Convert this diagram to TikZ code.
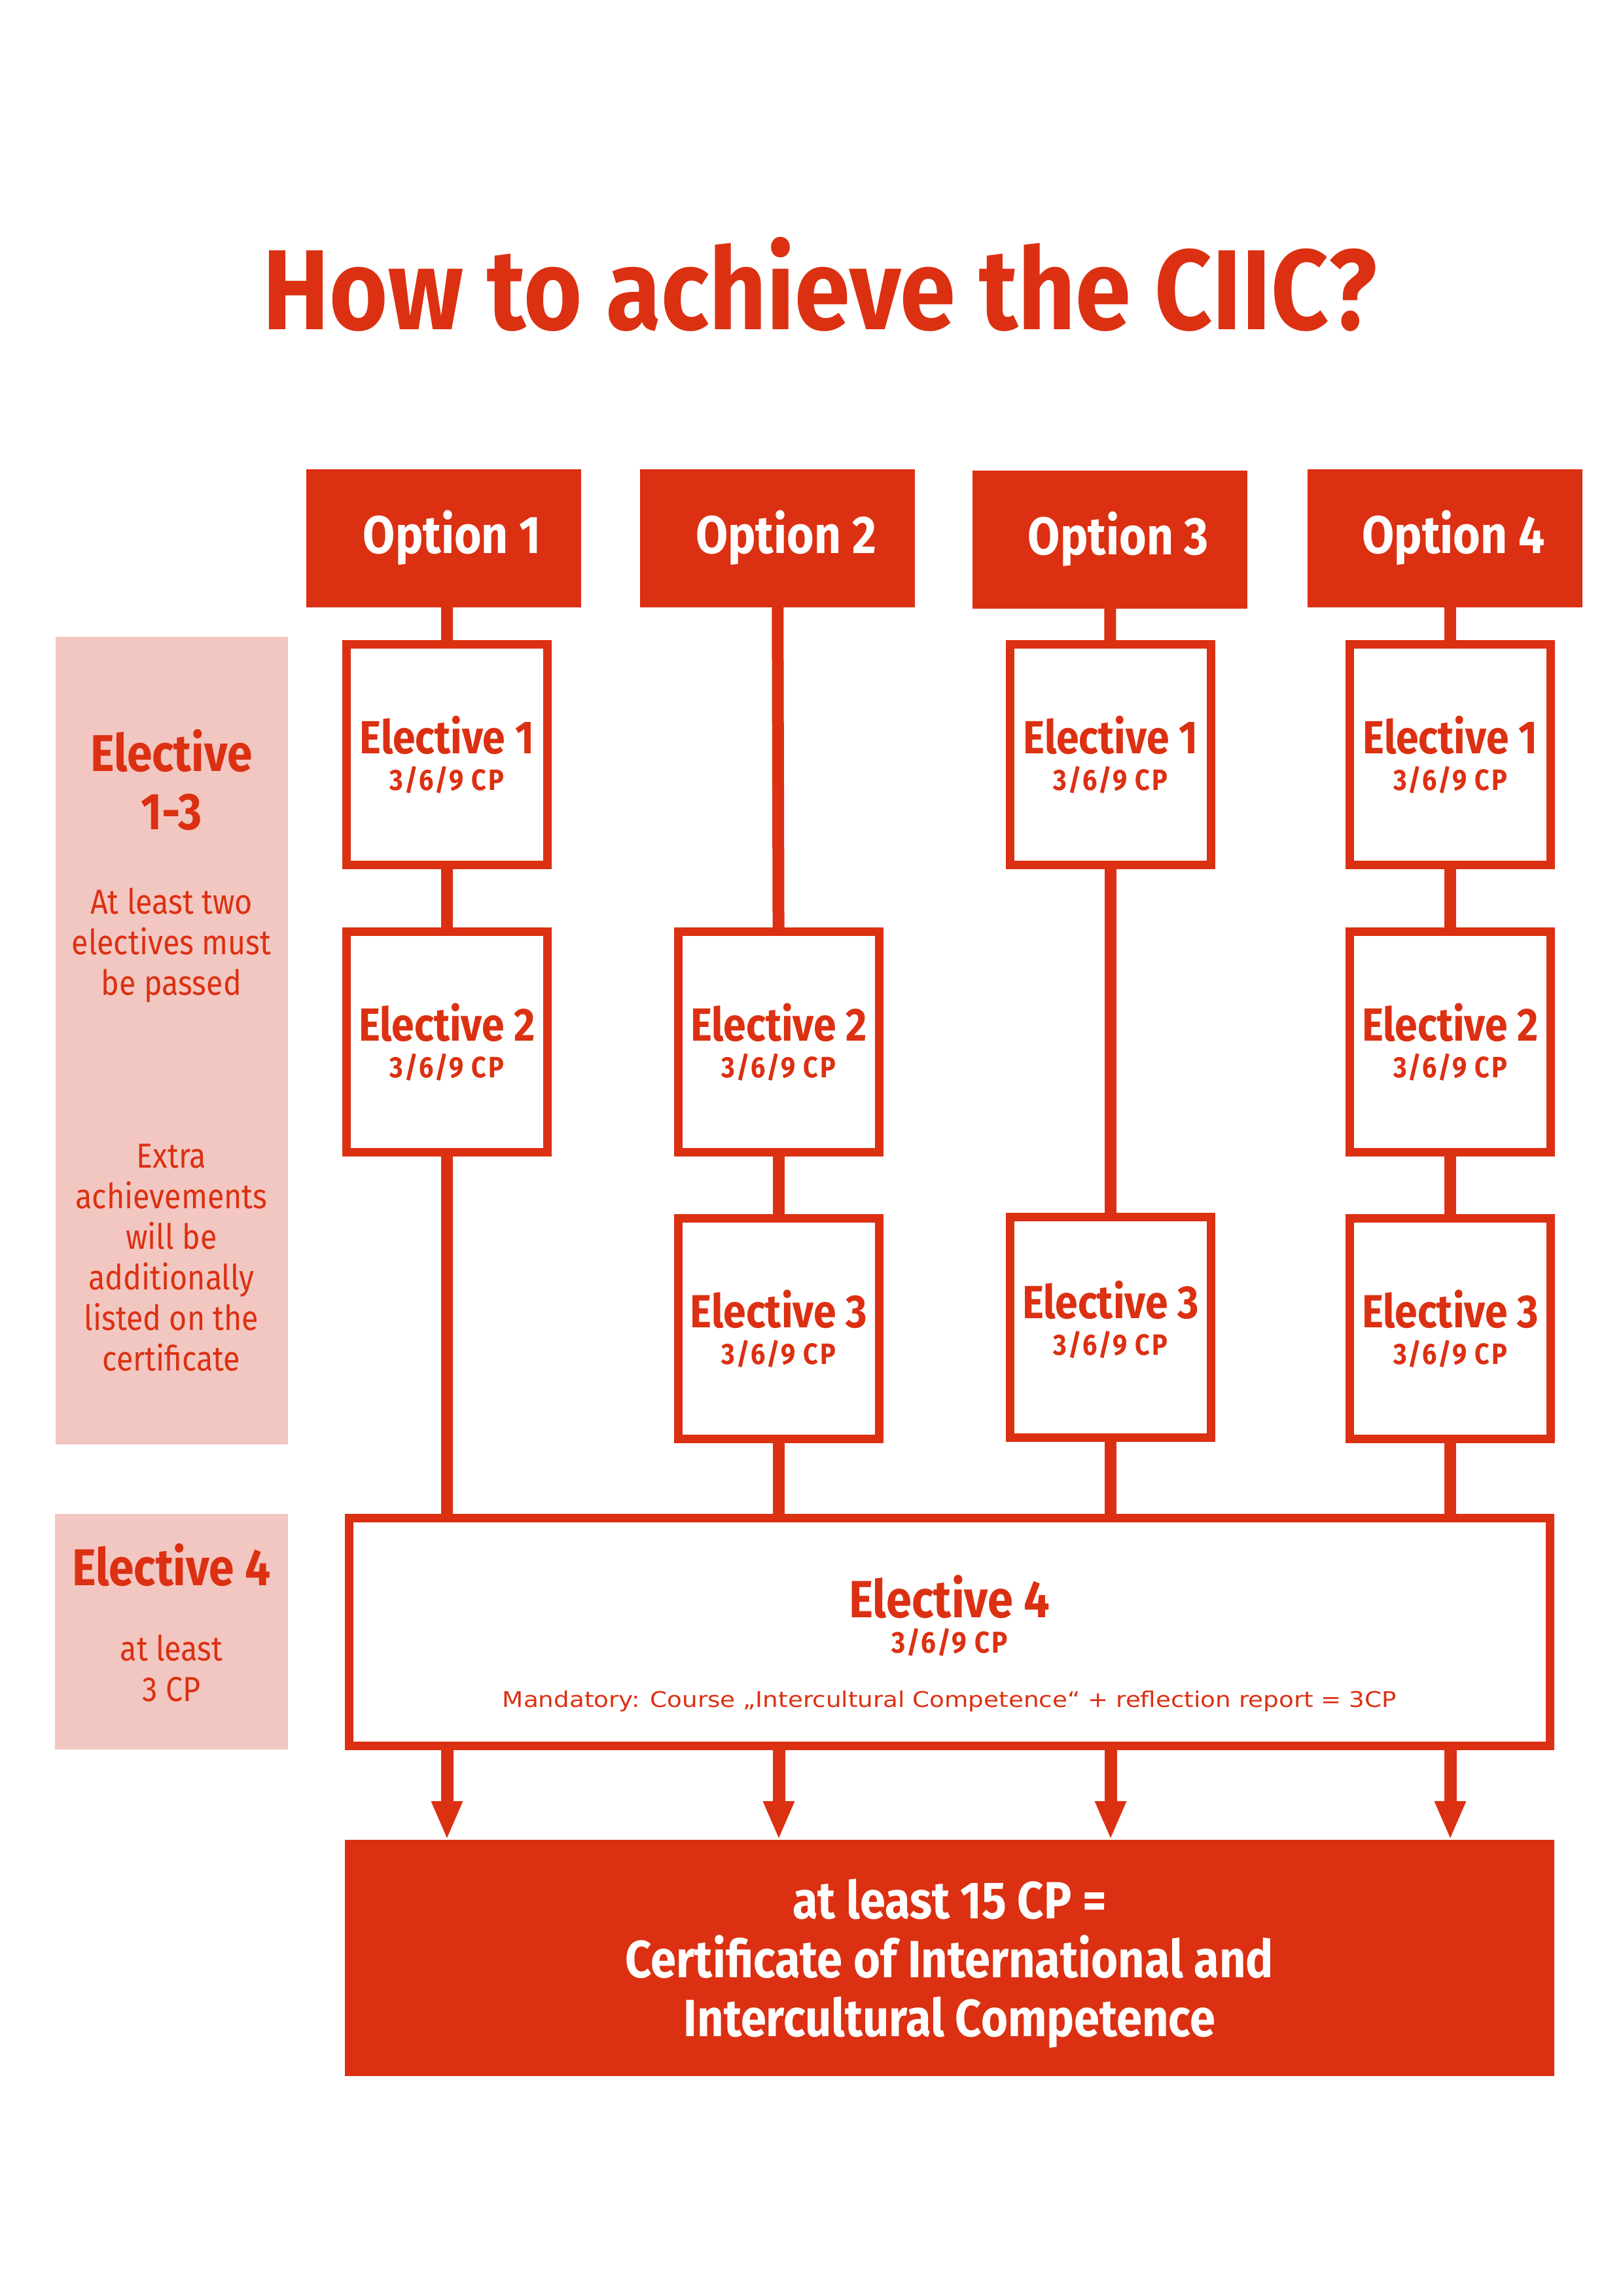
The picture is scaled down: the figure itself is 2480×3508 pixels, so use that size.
\documentclass[tikz,border=0pt]{standalone}
\usepackage{fontspec}
\setmainfont[FakeStretch=0.88]{Fira Sans}
\newfontfamily\widefont[FakeStretch=1.13]{DejaVu Sans}
\usetikzlibrary{arrows.meta}
\definecolor{ciicred}{RGB}{220,48,18}
\definecolor{ciicpink}{RGB}{243,199,193}

\begin{document}
\begin{tikzpicture}[x=1pt,y=-1pt]
    \tikzstyle{optbox}=[fill=ciicred,text=white,minimum width=420pt,minimum height=211pt,inner sep=0,font=\fontsize{81}{81}\selectfont\bfseries,execute at begin node={\hspace*{26pt}}]
    \tikzstyle{elbox}=[draw=ciicred,line width=13pt,fill=white,minimum width=307pt,minimum height=337pt,inner sep=0,align=center,text=ciicred,font=\fontsize{71}{56}\selectfont\bfseries]
    \tikzstyle{sidebox}=[fill=ciicpink,inner sep=0]
    \tikzstyle{sidetext}=[text=ciicred,align=center,inner sep=0,font=\fontsize{53}{62}\selectfont]
    \tikzstyle{sidehead}=[text=ciicred,align=center,inner sep=0,font=\fontsize{79}{89}\selectfont\bfseries]
    \tikzstyle{conn}=[draw=ciicred,line width=18pt]
    \tikzstyle{arrowline}=[draw=ciicred,line width=19pt,-{Triangle[width=44pt,length=59pt]}]
    \newcommand{\electivebox}[5][]{
        \path (#2,#3) node[elbox,#1] (#4) {Elective #5\\{\fontsize{45}{45}\selectfont\addfontfeature{LetterSpace=6}3/6/9 CP}};
    }
    \useasboundingbox (0,0) rectangle (2480,3508);
    \fill[white] (0,0) rectangle (2480,3508);
    \path (1253,503) node[anchor=base,text=ciicred,inner sep=0,font=\fontsize{174}{174}\selectfont\bfseries] (title) {How to achieve the CIIC?};
    \path (678,822) node[optbox] (opt1) {Option 1};
    \path (1188,822) node[optbox] (opt2) {Option 2};
    \path (1696,824) node[optbox] (opt3) {Option 3};
    \path (2208,822) node[optbox] (opt4) {Option 4};
    \path (262.5,1590) node[sidebox,minimum width=355pt,minimum height=1234pt] (side13) {};
    \path (262,2493) node[sidebox,minimum width=356pt,minimum height=360pt] (side4) {};
    \path (262,1192) node[sidehead] (side13head) {Elective\\1-3};
    \path (262,1444) node[sidetext] (side13min) {At least two\\electives must\\be passed};
    \path (262,1922) node[sidetext] (side13extra) {Extra\\achievements\\will be\\additionally\\listed on the\\certificate};
    \path (262,2391) node[sidehead] (side4head) {Elective 4};
    \path (262,2549) node[sidetext] (side4min) {at least\\3 CP};
    \electivebox{683}{1153}{c1e1}{1}
    \electivebox{683}{1592}{c1e2}{2}
    \electivebox{1190}{1592}{c2e2}{2}
    \electivebox{1190}{2030}{c2e3}{3}
    \electivebox{1697}{1153}{c3e1}{1}
    \electivebox[text depth=28pt]{1697}{2028}{c3e3}{3}
    \electivebox{2216}{1153}{c4e1}{1}
    \electivebox{2216}{1592}{c4e2}{2}
    \electivebox{2216}{2030}{c4e3}{3}
    \path (1451,2493.5) node[draw=ciicred,line width=13pt,fill=white,minimum width=1835pt,minimum height=348pt] (el4) {};
    \path (1451,2440) node[text=ciicred,inner sep=0,font=\fontsize{80}{80}\selectfont\bfseries] (el4head) {Elective 4};
    \path (1451,2509) node[text=ciicred,inner sep=0,font=\fontsize{46}{46}\selectfont\bfseries\addfontfeature{LetterSpace=6}] (el4cp) {3/6/9 CP};
    \path (1451,2599) node[text=ciicred,inner sep=0,font=\widefont\fontsize{33}{33}\selectfont] (el4note) {Mandatory: Course „Intercultural Competence“ + reflection report = 3CP};
    \path (1451,2991.5) node[fill=ciicred,text=white,minimum width=1848pt,minimum height=361pt,align=center,font=\fontsize{80}{90}\selectfont\bfseries,text depth=0pt] (cert) {at least 15 CP =\\Certificate of International and\\Intercultural Competence};
    \draw[conn] (c1e1 |- opt1.south) -- (c1e1);
    \draw[conn] (c1e1) -- (c1e2);
    \draw[conn] (c1e2) -- (c1e2 |- el4.north);
    \draw[conn] (opt2) -- (c2e2);
    \draw[conn] (c2e2) -- (c2e3);
    \draw[conn] (c2e3) -- (c2e3 |- el4.north);
    \draw[conn] (opt3) -- (c3e1);
    \draw[conn] (c3e1) -- (c3e3);
    \draw[conn] (c3e3) -- (c3e3 |- el4.north);
    \draw[conn] (c4e1 |- opt4.south) -- (c4e1);
    \draw[conn] (c4e1) -- (c4e2);
    \draw[conn] (c4e2) -- (c4e3);
    \draw[conn] (c4e3) -- (c4e3 |- el4.north);
    \draw[arrowline] (c1e2 |- el4.south) -- (c1e2 |- cert.north);
    \draw[arrowline] (c2e3 |- el4.south) -- (c2e3 |- cert.north);
    \draw[arrowline] (c3e3 |- el4.south) -- (c3e3 |- cert.north);
    \draw[arrowline] (c4e3 |- el4.south) -- (c4e3 |- cert.north);
\end{tikzpicture}
\end{document}
